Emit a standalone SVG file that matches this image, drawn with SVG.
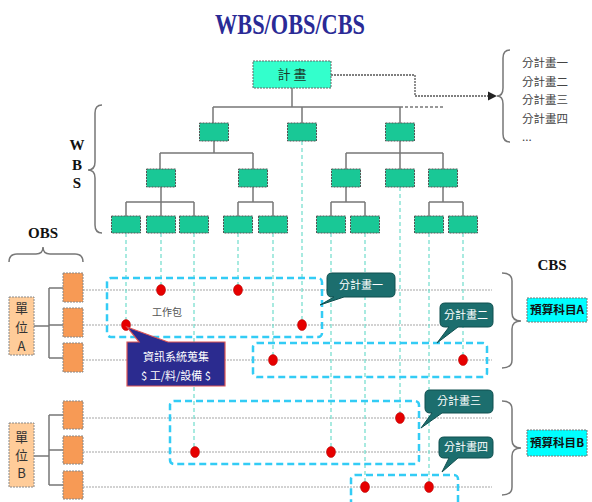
<svg xmlns="http://www.w3.org/2000/svg" width="592" height="502" viewBox="0 0 592 502">
<defs>
<marker id="arr" viewBox="0 0 10 10" refX="9" refY="5" markerWidth="7" markerHeight="7" orient="auto"><path d="M0,0 L10,5 L0,10 Z" fill="#222"/></marker>
<style>
.title{font-family:"Liberation Serif",serif;font-weight:bold;fill:#2a2a96}
.lbl{font-family:"Liberation Serif",serif;font-weight:bold;fill:#111;font-size:15px;text-anchor:middle}
.cjk{font-family:"Noto Sans CJK TC","Noto Sans CJK SC",sans-serif}
.wbs{fill:#19c896;stroke:#555;stroke-width:1;stroke-dasharray:2,1}
.tree{fill:none;stroke:#777;stroke-width:1.5}
.vdash{fill:none;stroke:#6fdccc;stroke-width:1.2;stroke-dasharray:4,3}
.row{fill:none;stroke:#c4c4c4;stroke-width:1.5;stroke-dasharray:2,1}
.grp{fill:none;stroke:#33ccf5;stroke-width:2.5;stroke-dasharray:7,4}
.dot{fill:#e60000;stroke:#b00000;stroke-width:0.5}
.call{fill:#1c6e6e;stroke:#0f4f4f;stroke-width:1}
.calltxt{font-family:"Noto Sans CJK TC","Noto Sans CJK SC",sans-serif;fill:#fff;font-size:11px;text-anchor:middle}
.brace{fill:none;stroke:#777;stroke-width:1.5}
.sub{fill:#f79a55;stroke:#888;stroke-width:1;stroke-dasharray:2,1}
.unit{fill:#ffcc99;stroke:#888;stroke-width:1;stroke-dasharray:2,1}
.unittxt{font-family:"Noto Sans CJK TC","Noto Sans CJK SC",sans-serif;fill:#333;font-size:13px;text-anchor:middle}
.cbs{fill:#00ffff;stroke:#777;stroke-width:1;stroke-dasharray:2,1}
.cbstxt{font-family:"Noto Sans CJK TC","Noto Sans CJK SC",sans-serif;fill:#111;font-size:11.5px;font-weight:bold}
.sp{font-family:"Noto Sans CJK TC","Noto Sans CJK SC",sans-serif;fill:#444;font-size:11.5px}
</style>
</defs>
<rect width="592" height="502" fill="#fff"/>
<text class="title" x="215" y="34" font-size="29" textLength="150" lengthAdjust="spacingAndGlyphs">WBS/OBS/CBS</text>

<!-- connectors -->
<g id="connectors">
  <path class="tree" d="M292,88 V107 M213,107 H400 M213,107 V123 M302,107 V123 M400,107 V123"/>
  <path class="tree" stroke-dasharray="3,2" d="M400,107 H443"/>
  <path class="tree" d="M214,141 V153 M160,153 H253 M160,153 V169 M253,153 V169"/>
  <path class="tree" d="M400,141 V153 M346,153 H443 M346,153 V169 M400,153 V169 M443,153 V169"/>
  <path class="tree" d="M161,187 V202 M126,202 H194 M126,202 V216 M161,202 V216 M194,202 V216"/>
  <path class="tree" d="M253,187 V202 M238,202 H273 M238,202 V216 M273,202 V216"/>
  <path class="tree" d="M346,187 V202 M331,202 H365 M331,202 V216 M365,202 V216"/>
  <path class="tree" d="M443,187 V202 M429,202 H463 M429,202 V216 M463,202 V216"/>
  <path fill="none" stroke="#555" stroke-width="1.3" stroke-dasharray="2,1" d="M331,75 H415 V96 H496" marker-end="url(#arr)"/>
  <!-- OBS connectors -->
  <path class="tree" d="M34,326 H49 M49,288 V358 M49,288 H63 M49,325 H63 M49,358 H63"/>
  <path class="tree" d="M34,456 H49 M49,415 V485 M49,415 H63 M49,450 H63 M49,485 H63"/>
  <!-- row lines -->
  <path class="row" d="M83,290 H492 M83,325 H492 M83,360 H492 M83,418 H492 M83,452 H492 M83,487 H492"/>
  <!-- vertical dashed -->
  <path class="vdash" d="M126,233 V325 M161,233 V290 M194,233 V452 M238,233 V290 M273,233 V360 M302,141 V325 M331,233 V452 M365,233 V487 M400,187 V418 M429,233 V487 M463,233 V360"/>
</g>

<!-- braces -->
<path class="brace" d="M510,50 Q503,50 503,58 L503,88 Q503,96 497,96 Q503,96 503,104 L503,134 Q503,142 510,142"/>
<path class="brace" d="M102,105 Q95,105 95,113 L95,162 Q95,170 88,170 Q95,170 95,178 L95,225 Q95,233 102,233"/>
<path class="brace" d="M9,262 Q9,254 17,254 L36,254 Q43,254 43,247 Q43,254 50,254 L75,254 Q83,254 83,262"/>
<path class="brace" d="M502,273 Q512,273 512,281 L512,313 Q512,321 521,321 Q512,321 512,329 L512,360 Q512,368 502,368"/>
<path class="brace" d="M502,401 Q512,401 512,409 L512,440 Q512,448 521,448 Q512,448 512,456 L512,487 Q512,495 502,495"/>

<!-- labels -->
<g class="lbl"><text x="77" y="150">W</text><text x="77" y="170">B</text><text x="77" y="188">S</text></g>
<text class="lbl" x="43" y="238">OBS</text>
<text class="lbl" x="552" y="270">CBS</text>

<g class="sp">
  <text x="522" y="67">分計畫一</text>
  <text x="522" y="86">分計畫二</text>
  <text x="522" y="104">分計畫三</text>
  <text x="522" y="123">分計畫四</text>
  <text x="522" y="141">...</text>
</g>

<!-- WBS nodes -->
<g id="n-top"><rect x="253" y="61" width="78" height="27" fill="#33ffcc" stroke="#666" stroke-dasharray="2,1"/><text class="cjk" x="292" y="79" font-size="13" fill="#1a3a2a" text-anchor="middle">計 畫</text></g>
<g id="n-l1"><rect class="wbs" x="199.5" y="123" width="29" height="18"/><rect class="wbs" x="287.5" y="123" width="29" height="18"/><rect class="wbs" x="385.5" y="123" width="29" height="18"/></g>
<g id="n-l2"><rect class="wbs" x="146.5" y="169" width="29" height="18"/><rect class="wbs" x="238.5" y="169" width="29" height="18"/><rect class="wbs" x="331.5" y="169" width="29" height="18"/><rect class="wbs" x="385.5" y="169" width="29" height="18"/><rect class="wbs" x="428.5" y="169" width="29" height="18"/></g>
<g id="n-l3"><rect class="wbs" x="111.5" y="216" width="29" height="17"/><rect class="wbs" x="146.5" y="216" width="29" height="17"/><rect class="wbs" x="179.5" y="216" width="29" height="17"/><rect class="wbs" x="223.5" y="216" width="29" height="17"/><rect class="wbs" x="258.5" y="216" width="29" height="17"/><rect class="wbs" x="316.5" y="216" width="29" height="17"/><rect class="wbs" x="350.5" y="216" width="29" height="17"/><rect class="wbs" x="414.5" y="216" width="29" height="17"/><rect class="wbs" x="448.5" y="216" width="29" height="17"/></g>

<!-- OBS -->
<g id="unit-a"><rect class="unit" x="9" y="297" width="25" height="58"/><text class="unittxt" x="21.5" y="313">單</text><text class="unittxt" x="21.5" y="332">位</text><text class="unittxt" x="21.5" y="351" font-family="Liberation Serif,serif" font-size="12">A</text></g>
<g id="unit-a-subs"><rect class="sub" x="63" y="273" width="20" height="29"/><rect class="sub" x="63" y="308" width="20" height="29"/><rect class="sub" x="63" y="343" width="20" height="29"/></g>
<g id="unit-b"><rect class="unit" x="9" y="423" width="25" height="64"/><text class="unittxt" x="21.5" y="442">單</text><text class="unittxt" x="21.5" y="460">位</text><text class="unittxt" x="21.5" y="478" font-family="Liberation Serif,serif" font-size="12">B</text></g>
<g id="unit-b-subs"><rect class="sub" x="63" y="401" width="20" height="28"/><rect class="sub" x="63" y="436" width="20" height="28"/><rect class="sub" x="63" y="471" width="20" height="28"/></g>

<!-- work package groups -->
<g id="groups">
  <rect class="grp" x="107" y="278" width="215" height="59" rx="4"/>
  <rect class="grp" x="253" y="343" width="234" height="34" rx="4"/>
  <rect class="grp" x="170" y="401" width="249" height="63" rx="4"/>
  <rect class="grp" x="351" y="475" width="107" height="40" rx="4"/>
</g>

<text class="cjk" x="167" y="316" font-size="10" fill="#555" text-anchor="middle">工作包</text>

<!-- dots -->
<g id="dots">
  <ellipse class="dot" cx="161" cy="290" rx="4.5" ry="5.5"/>
  <ellipse class="dot" cx="238" cy="290" rx="4.5" ry="5.5"/>
  <ellipse class="dot" cx="126" cy="325" rx="4.5" ry="5.5"/>
  <ellipse class="dot" cx="302" cy="325" rx="4.5" ry="5.5"/>
  <ellipse class="dot" cx="273" cy="360" rx="4.5" ry="5.5"/>
  <ellipse class="dot" cx="463" cy="360" rx="4.5" ry="5.5"/>
  <ellipse class="dot" cx="400" cy="418" rx="4.5" ry="5.5"/>
  <ellipse class="dot" cx="195" cy="452" rx="4.5" ry="5.5"/>
  <ellipse class="dot" cx="331" cy="452" rx="4.5" ry="5.5"/>
  <ellipse class="dot" cx="365" cy="487" rx="4.5" ry="5.5"/>
  <ellipse class="dot" cx="429" cy="487" rx="4.5" ry="5.5"/>
</g>

<!-- navy callout -->
<g id="info-callout">
  <path d="M127,342 L139,342 L127,327 L168,342 L225,342 L225,386 L127,386 Z" fill="#2b2b8f" stroke="#dd5555" stroke-width="1.2"/>
  <text class="calltxt" x="176" y="361" font-size="11.5">資訊系統蒐集</text>
  <text class="calltxt" x="176" y="380" font-size="11.5">$ 工/料/設備 $</text>
</g>

<!-- teal callouts -->
<g id="callout-1"><path class="call" d="M332,273 H390 Q395,273 395,278 V292 Q395,297 390,297 H344 L320,305 L334,297 H332 Q327,297 327,292 V278 Q327,273 332,273 Z"/><text class="calltxt" x="361" y="289">分計畫一</text></g>
<g id="callout-2"><path class="call" d="M445,303 H488 Q493,303 493,308 V322 Q493,327 488,327 H458 L437,343 L449,327 H445 Q440,327 440,322 V308 Q440,303 445,303 Z"/><text class="calltxt" x="466" y="319">分計畫二</text></g>
<g id="callout-3"><path class="call" d="M430,390 H488 Q493,390 493,395 V408 Q493,413 488,413 H442 L421,428 L432,413 H430 Q425,413 425,408 V395 Q425,390 430,390 Z"/><text class="calltxt" x="459" y="405">分計畫三</text></g>
<g id="callout-4"><path class="call" d="M444,437 H488 Q493,437 493,442 V453 Q493,458 488,458 H458 L442,472 L449,458 H444 Q439,458 439,453 V442 Q439,437 444,437 Z"/><text class="calltxt" x="466" y="451">分計畫四</text></g>

<!-- CBS -->
<g id="cbs-a"><rect class="cbs" x="527" y="298" width="60" height="24"/><text class="cbstxt" x="530" y="314" textLength="54" lengthAdjust="spacingAndGlyphs">預算科目A</text></g>
<g id="cbs-b"><rect class="cbs" x="527" y="430" width="60" height="26"/><text class="cbstxt" x="530" y="447" textLength="54" lengthAdjust="spacingAndGlyphs">預算科目B</text></g>
</svg>
